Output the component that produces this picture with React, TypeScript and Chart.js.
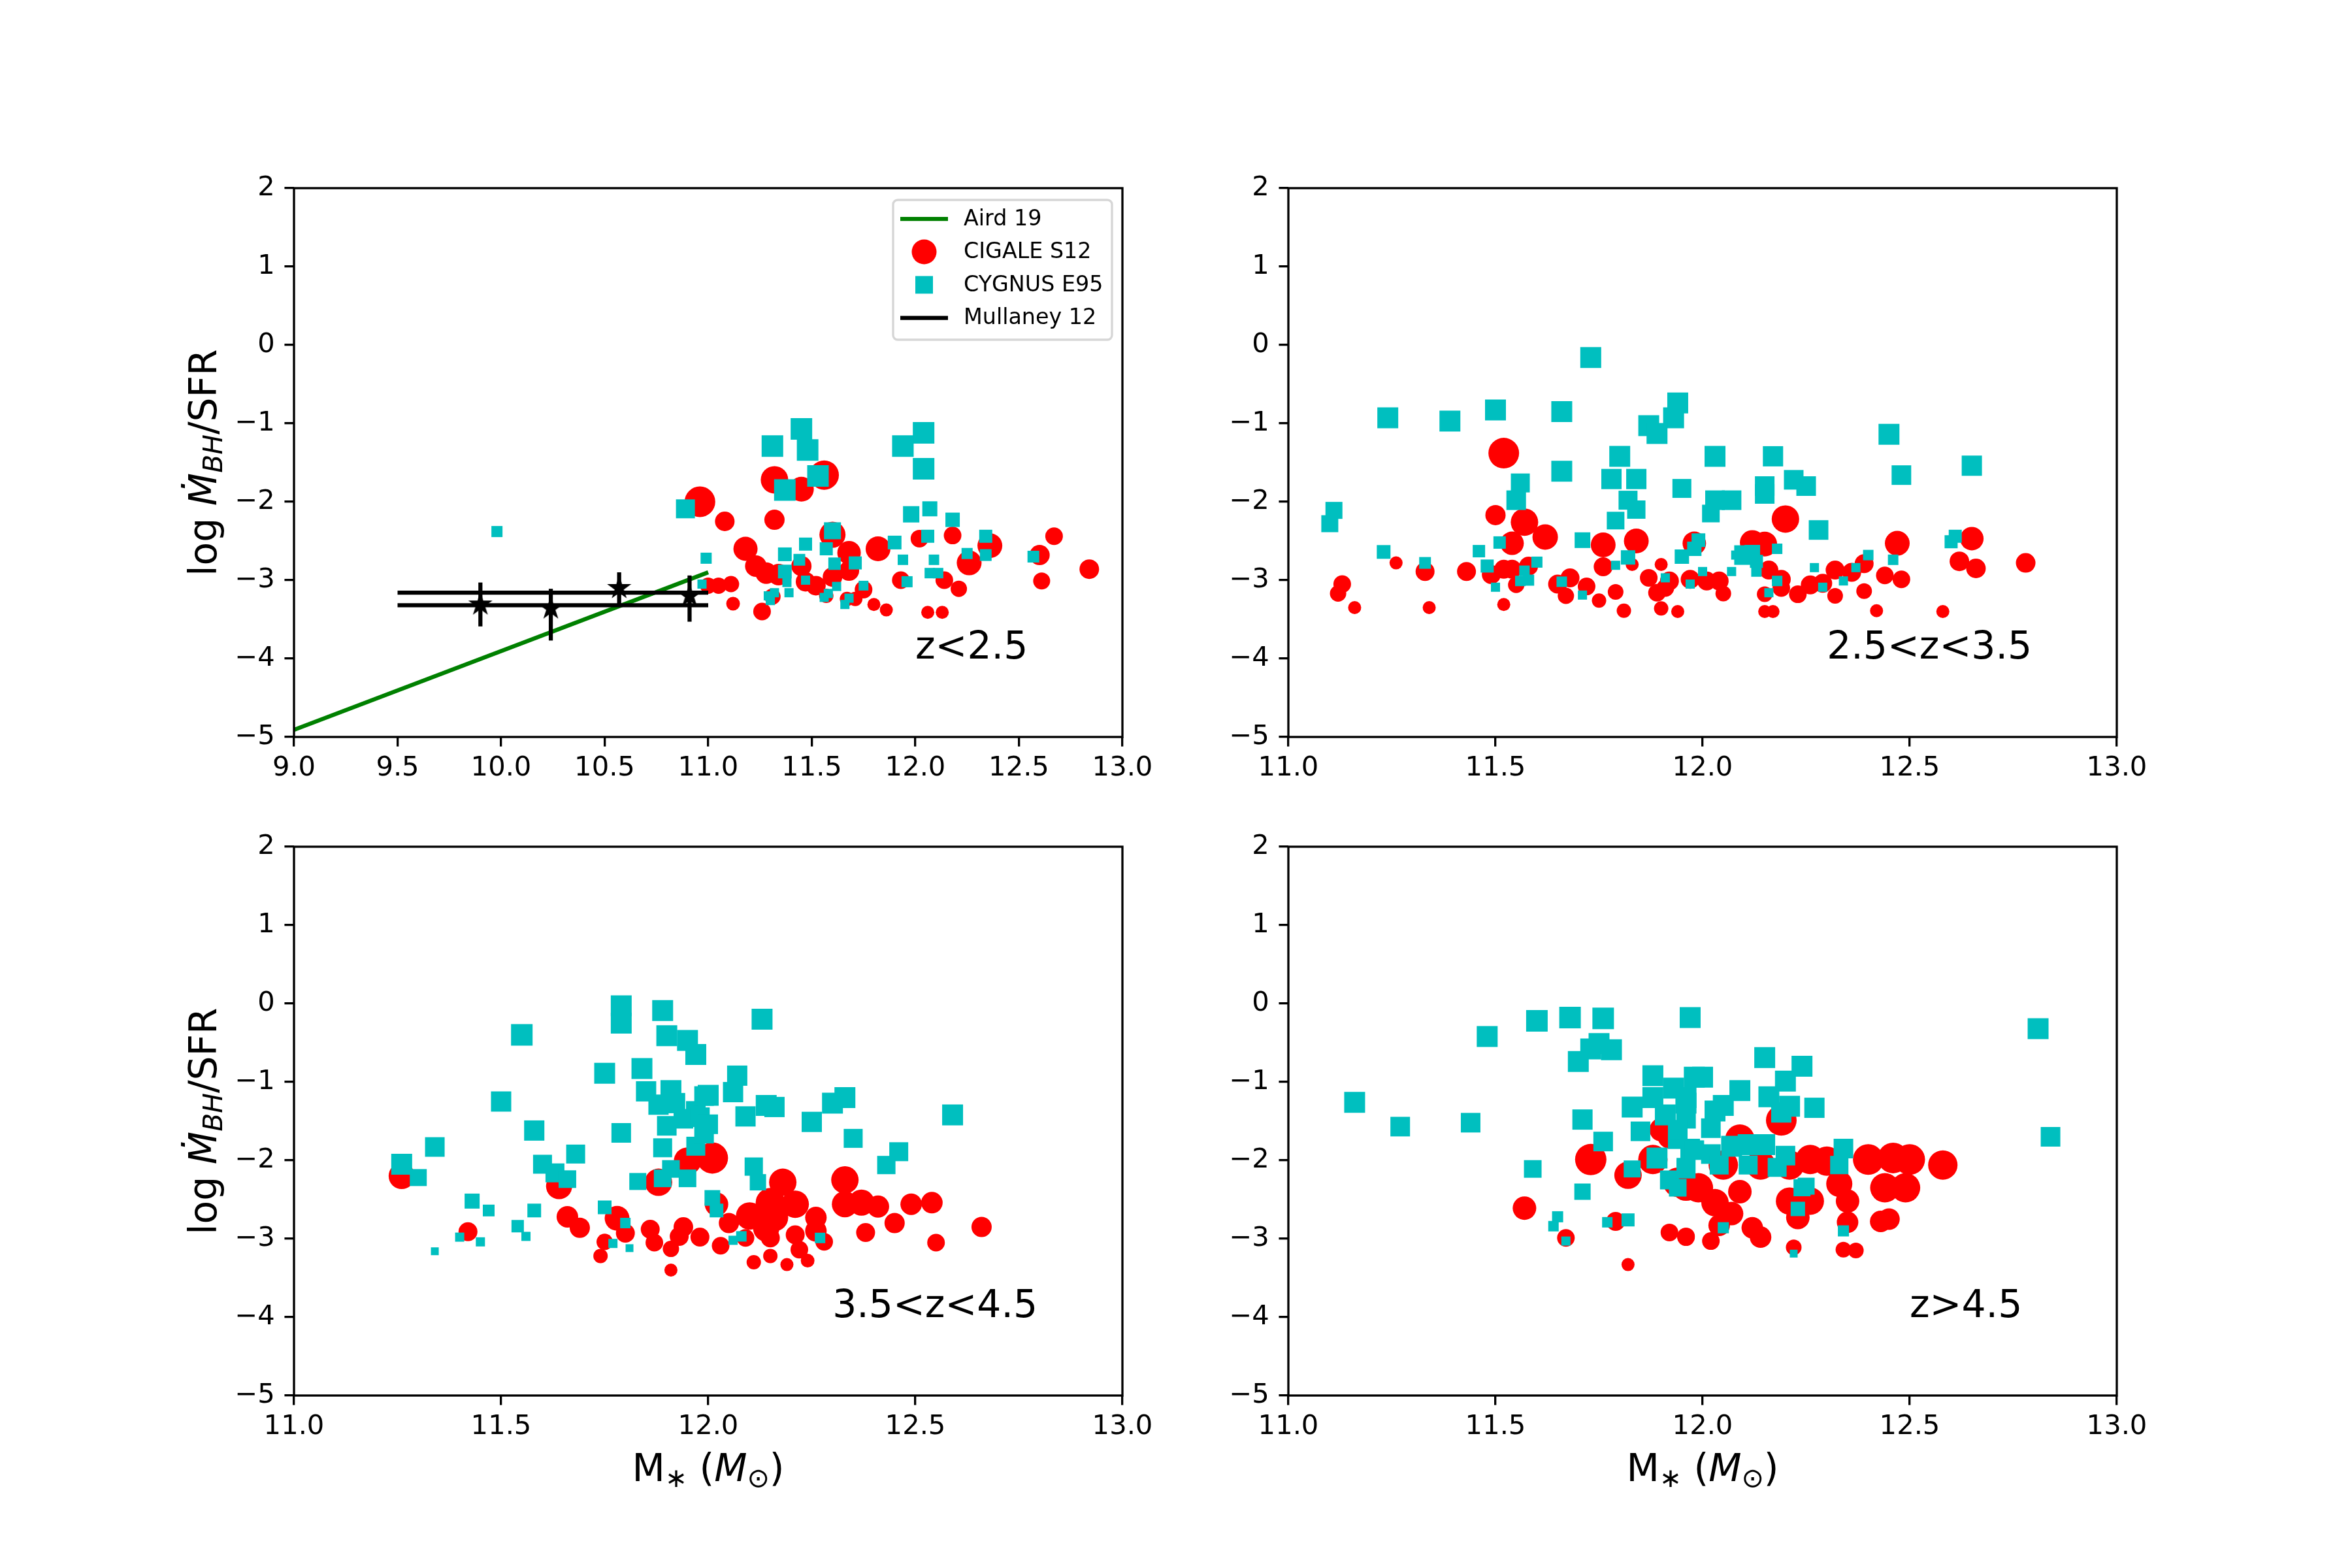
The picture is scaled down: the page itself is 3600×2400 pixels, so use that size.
import React, { useEffect, useRef } from 'react';
import { Chart, registerables } from 'chart.js';

Chart.register(...registerables);

const FONT = '"DejaVu Sans", "Liberation Sans", sans-serif';

// ---------- tick labels ----------
const X_TICKS_WIDE = [9.0, 9.5, 10.0, 10.5, 11.0, 11.5, 12.0, 12.5, 13.0];
const X_TICKS_NARROW = [11.0, 11.5, 12.0, 12.5, 13.0];
const Y_TICKS = [-5, -4, -3, -2, -1, 0, 1, 2];

// ---------- panel annotations ----------
const PANEL_LABELS = ['z<2.5', '2.5<z<3.5', '3.5<z<4.5', 'z>4.5'];
const PANEL_LABEL_MASS = [12.0, 12.3, 12.3, 12.5];
const PANEL_LABEL_RATIO = [-4.0, -4.0, -4.0, -4.0];

const LEGEND_LABELS = ['Aird 19', 'CIGALE S12', 'CYGNUS E95', 'Mullaney 12'];

// ---------- Aird 19 relation ----------
const airdMass = [9.0, 11.0];
const airdRatio = [-4.91, -2.9];

// ---------- Mullaney 12 ----------
const mullaneyBandMass = [9.5, 11.0];
const mullaneyBandLevels = [-3.16, -3.32];
const mullaneyMass = [9.9, 10.24, 10.57, 10.91];
const mullaneyRatio = [-3.31, -3.36, -3.1, -3.2];
const mullaneyLow = [-3.59, -3.77, -3.31, -3.53];
const mullaneyHigh = [-3.03, -3.11, -2.9, -2.94];

// ---------- z < 2.5 ----------
const z1CigaleMass = [10.96, 11.32, 11.56, 11.45, 11.08, 11.32, 11.6, 11.18, 11.23, 11.28, 11.34, 11.45, 11.68, 11.82, 12.02, 12.18, 12.36, 12.26, 12.67, 12.6, 12.61, 12.84, 11.0, 11.05, 11.11, 11.47, 11.52, 11.6, 11.68, 11.75, 11.71, 11.67, 11.57, 11.31, 11.26, 11.12, 11.8, 11.86, 11.93, 12.14, 12.21, 12.06, 12.13];
const z1CigaleRatio = [-2.0, -1.72, -1.66, -1.84, -2.25, -2.23, -2.42, -2.6, -2.82, -2.91, -2.93, -2.82, -2.65, -2.6, -2.47, -2.43, -2.56, -2.78, -2.44, -2.68, -3.01, -2.86, -3.07, -3.07, -3.05, -3.02, -3.07, -2.96, -2.88, -3.12, -3.24, -3.24, -3.2, -3.21, -3.4, -3.3, -3.31, -3.38, -3.0, -3.0, -3.11, -3.41, -3.41];
const z1CigaleWeight = [47, 42, 45, 38, 30, 31, 40, 37, 33, 33, 33, 31, 36, 38, 27, 27, 38, 38, 27, 31, 26, 30, 25, 25, 25, 30, 30, 30, 31, 27, 22, 22, 22, 25, 27, 21, 20, 20, 27, 27, 25, 20, 20];

const z1CygnusMass = [11.45, 11.31, 11.48, 12.04, 11.94, 12.04, 11.53, 11.37, 10.89, 11.98, 12.07, 12.18, 11.6, 11.47, 11.57, 11.37, 11.9, 12.06, 12.34, 12.25, 12.34, 12.57, 10.99, 11.44, 11.61, 11.71, 11.94, 12.09, 11.37, 12.07, 12.11, 11.38, 11.47, 11.96, 10.97, 11.75, 11.62, 11.29, 11.32, 11.39, 11.3, 11.56, 11.58, 11.66, 11.68, 9.98];
const z1CygnusRatio = [-1.07, -1.29, -1.34, -1.12, -1.29, -1.58, -1.67, -1.85, -2.09, -2.16, -2.09, -2.23, -2.37, -2.54, -2.6, -2.67, -2.52, -2.44, -2.44, -2.66, -2.68, -2.7, -2.72, -2.74, -2.79, -2.78, -2.74, -2.74, -2.89, -2.91, -2.91, -3.03, -3.0, -3.02, -3.05, -3.07, -3.08, -3.2, -3.16, -3.16, -3.26, -3.22, -3.17, -3.31, -3.23, -2.38];
const z1CygnusWeight = [33, 33, 33, 33, 33, 33, 33, 33, 29, 25, 23, 22, 26, 20, 20, 21, 21, 20, 20, 17, 18, 18, 17, 18, 19, 20, 16, 16, 21, 16, 16, 14, 14, 17, 14, 15, 14, 14, 14, 14, 14, 14, 14, 14, 14, 17];

// ---------- 2.5 < z < 3.5 ----------
const z2CigaleMass = [11.52, 11.5, 11.57, 11.62, 11.54, 11.76, 11.84, 11.98, 11.76, 11.13, 11.12, 11.16, 11.26, 11.33, 11.34, 11.43, 11.49, 11.52, 11.54, 11.58, 11.55, 11.52, 11.65, 11.68, 11.67, 11.72, 11.75, 11.79, 11.81, 11.83, 11.87, 11.9, 11.89, 11.92, 11.91, 11.9, 11.94, 11.97, 12.01, 12.04, 12.05, 12.2, 12.12, 12.15, 12.47, 12.65, 12.16, 12.19, 12.19, 12.15, 12.23, 12.26, 12.29, 12.32, 12.36, 12.39, 12.44, 12.48, 12.32, 12.39, 12.15, 12.17, 12.42, 12.58, 12.62, 12.66, 12.78];
const z2CigaleRatio = [-1.38, -2.17, -2.26, -2.45, -2.53, -2.55, -2.5, -2.53, -2.83, -3.05, -3.17, -3.35, -2.78, -2.89, -3.35, -2.89, -2.93, -2.86, -2.86, -2.82, -3.06, -3.31, -3.05, -2.97, -3.2, -3.08, -3.26, -3.15, -3.39, -2.8, -2.97, -2.8, -3.16, -3.01, -3.1, -3.36, -3.4, -2.99, -3.01, -3.01, -3.17, -2.22, -2.52, -2.54, -2.53, -2.47, -2.87, -2.99, -3.1, -3.18, -3.18, -3.06, -3.04, -2.87, -2.9, -2.79, -2.94, -2.99, -3.2, -3.14, -3.4, -3.4, -3.39, -3.4, -2.76, -2.85, -2.78];
const z2CigaleWeight = [47, 31, 42, 39, 36, 38, 38, 36, 29, 27, 25, 20, 20, 29, 20, 29, 29, 29, 29, 29, 25, 20, 29, 29, 25, 27, 22, 24, 22, 20, 27, 20, 27, 29, 27, 22, 20, 29, 29, 29, 24, 42, 38, 38, 38, 36, 29, 29, 27, 24, 27, 29, 29, 29, 29, 29, 27, 27, 24, 24, 20, 20, 20, 20, 30, 30, 30];

const z2CygnusMass = [11.24, 11.39, 11.5, 11.66, 11.73, 11.94, 11.93, 11.87, 11.89, 11.8, 12.03, 11.66, 11.78, 11.84, 11.95, 11.56, 11.55, 11.82, 11.84, 11.79, 12.02, 12.03, 11.11, 11.1, 11.71, 11.23, 11.46, 11.51, 11.33, 11.48, 11.6, 11.57, 11.58, 11.56, 11.5, 11.66, 11.71, 11.79, 11.82, 11.91, 11.97, 11.99, 11.98, 11.95, 12.0, 12.07, 12.08, 12.17, 12.45, 12.65, 12.48, 12.15, 12.22, 12.25, 12.15, 12.07, 12.28, 12.1, 12.12, 12.13, 12.13, 12.18, 12.18, 12.16, 12.27, 12.29, 12.34, 12.37, 12.4, 12.46, 12.6, 12.61];
const z2CygnusRatio = [-0.93, -0.97, -0.83, -0.85, -0.16, -0.74, -0.93, -1.03, -1.13, -1.42, -1.42, -1.61, -1.71, -1.71, -1.83, -1.76, -1.98, -1.98, -2.1, -2.24, -2.15, -1.98, -2.11, -2.28, -2.49, -2.64, -2.63, -2.52, -2.78, -2.82, -2.77, -2.88, -3.0, -3.01, -3.09, -3.02, -3.19, -2.81, -2.71, -2.97, -3.05, -2.49, -2.6, -2.7, -2.89, -2.89, -2.68, -1.42, -1.14, -1.54, -1.66, -1.8, -1.72, -1.8, -1.9, -1.98, -2.36, -2.68, -2.65, -2.76, -2.89, -2.6, -3.01, -3.16, -2.84, -3.09, -3.01, -2.84, -2.68, -2.74, -2.51, -2.44];
const z2CygnusWeight = [32, 32, 32, 32, 32, 32, 32, 32, 32, 32, 32, 32, 31, 31, 29, 29, 30, 29, 28, 27, 27, 30, 26, 26, 24, 21, 19, 19, 18, 20, 17, 16, 17, 16, 14, 16, 14, 14, 22, 14, 14, 21, 22, 22, 14, 14, 14, 31, 32, 31, 30, 30, 30, 30, 30, 30, 30, 30, 24, 20, 16, 16, 16, 14, 14, 14, 14, 14, 16, 16, 20, 20];

// ---------- 3.5 < z < 4.5 ----------
const z3CigaleMass = [11.26, 11.64, 11.88, 11.95, 11.42, 11.66, 11.69, 11.78, 11.8, 11.75, 11.74, 11.86, 11.87, 11.91, 11.91, 11.94, 11.93, 11.98, 12.01, 12.02, 12.05, 12.03, 12.09, 12.1, 12.18, 12.15, 12.21, 12.16, 12.14, 12.15, 12.21, 12.22, 12.26, 12.26, 12.28, 12.11, 12.15, 12.19, 12.24, 12.33, 12.33, 12.37, 12.41, 12.38, 12.45, 12.49, 12.54, 12.55, 12.66];
const z3CigaleRatio = [-2.2, -2.33, -2.28, -2.01, -2.91, -2.72, -2.86, -2.74, -2.93, -3.04, -3.22, -2.88, -3.05, -3.13, -3.4, -2.85, -2.97, -2.98, -1.97, -2.56, -2.8, -3.09, -2.99, -2.71, -2.28, -2.54, -2.56, -2.73, -2.87, -2.99, -2.95, -3.14, -2.73, -2.9, -3.04, -3.3, -3.22, -3.33, -3.28, -2.25, -2.56, -2.54, -2.59, -2.92, -2.8, -2.56, -2.54, -3.05, -2.85];
const z3CigaleWeight = [40, 40, 42, 42, 29, 33, 31, 38, 29, 25, 22, 29, 27, 25, 20, 30, 29, 29, 48, 36, 31, 27, 27, 42, 42, 45, 42, 42, 40, 29, 29, 27, 33, 33, 27, 22, 22, 20, 21, 42, 40, 40, 34, 29, 31, 33, 33, 27, 31];

const z3CygnusMass = [11.26, 11.3, 11.34, 11.5, 11.55, 11.58, 11.6, 11.63, 11.66, 11.68, 11.75, 11.79, 11.79, 11.89, 11.9, 11.84, 11.79, 11.85, 11.91, 11.88, 11.92, 11.9, 11.95, 11.97, 11.94, 11.97, 11.89, 11.83, 11.89, 11.91, 11.95, 11.97, 11.99, 11.43, 11.47, 11.58, 11.54, 11.56, 11.4, 11.45, 11.34, 11.75, 11.8, 11.77, 11.81, 12.13, 12.07, 12.06, 12.0, 12.14, 12.16, 12.09, 11.98, 12.0, 11.99, 12.25, 12.3, 12.33, 12.59, 12.35, 12.46, 12.43, 12.11, 12.12, 12.01, 12.02, 12.06, 12.08, 12.27];
const z3CygnusRatio = [-2.05, -2.22, -1.83, -1.25, -0.4, -1.62, -2.05, -2.16, -2.24, -1.92, -0.89, -0.03, -0.25, -0.09, -0.41, -0.83, -1.65, -1.12, -1.11, -1.29, -1.27, -1.56, -0.47, -0.65, -1.47, -1.37, -1.84, -2.27, -2.23, -2.11, -2.23, -1.82, -1.18, -2.52, -2.64, -2.64, -2.84, -2.97, -2.98, -3.04, -3.16, -2.6, -2.8, -3.06, -3.12, -0.2, -0.92, -1.13, -1.17, -1.3, -1.32, -1.44, -1.45, -1.54, -1.66, -1.51, -1.27, -1.2, -1.42, -1.72, -1.89, -2.06, -2.08, -2.28, -2.48, -2.64, -3.02, -2.97, -2.99];
const z3CygnusWeight = [32, 26, 30, 31, 33, 31, 29, 29, 27, 29, 32, 32, 32, 32, 32, 32, 30, 31, 32, 31, 31, 30, 32, 32, 30, 30, 29, 26, 27, 27, 27, 29, 30, 23, 18, 21, 19, 14, 14, 14, 12, 21, 16, 14, 12, 32, 31, 31, 32, 32, 31, 31, 30, 30, 30, 31, 32, 32, 32, 29, 29, 28, 28, 25, 24, 21, 14, 16, 16];

// ---------- z > 4.5 ----------
const z4CigaleMass = [11.57, 11.67, 11.73, 11.82, 11.79, 11.82, 11.88, 11.9, 11.92, 11.92, 11.96, 11.94, 11.96, 12.19, 12.09, 12.05, 12.14, 12.21, 12.26, 12.3, 12.4, 12.46, 12.5, 12.58, 12.44, 12.49, 12.33, 11.99, 12.03, 12.09, 12.07, 12.21, 12.26, 12.23, 12.35, 12.35, 12.04, 12.12, 12.14, 12.43, 12.45, 11.96, 12.02, 12.22, 12.34, 12.37];
const z4CigaleRatio = [-2.61, -2.99, -1.99, -2.19, -2.78, -3.33, -1.99, -1.61, -1.7, -2.92, -2.98, -2.28, -2.33, -1.49, -1.73, -2.06, -2.06, -2.06, -1.99, -2.01, -1.99, -1.97, -1.99, -2.06, -2.35, -2.35, -2.3, -2.35, -2.54, -2.4, -2.68, -2.52, -2.52, -2.73, -2.52, -2.79, -2.83, -2.86, -2.98, -2.78, -2.75, -2.97, -3.03, -3.11, -3.14, -3.15];
const z4CigaleWeight = [36, 27, 48, 42, 29, 20, 45, 36, 36, 27, 27, 45, 45, 47, 45, 45, 45, 45, 45, 45, 47, 47, 47, 45, 45, 45, 40, 45, 42, 36, 36, 42, 42, 36, 36, 33, 33, 33, 33, 33, 33, 27, 27, 24, 24, 24];

const z4CygnusMass = [11.16, 11.27, 11.44, 11.48, 11.6, 11.68, 11.76, 11.7, 11.73, 11.75, 11.78, 11.71, 11.76, 11.59, 11.71, 11.65, 11.64, 11.67, 11.77, 11.82, 11.83, 11.88, 11.83, 11.88, 11.93, 11.96, 11.91, 11.85, 11.96, 11.94, 11.97, 11.89, 11.96, 11.92, 11.94, 11.97, 11.98, 12.81, 12.84, 12.15, 12.24, 12.2, 12.0, 12.09, 12.16, 12.21, 12.27, 12.05, 12.03, 11.96, 12.19, 12.02, 11.94, 12.11, 12.15, 12.07, 12.02, 11.98, 12.2, 12.34, 12.33, 12.11, 12.04, 12.18, 11.96, 12.25, 12.24, 12.23, 12.05, 12.34, 12.22];
const z4CygnusRatio = [-1.26, -1.57, -1.52, -0.42, -0.22, -0.18, -0.19, -0.74, -0.58, -0.51, -0.59, -1.48, -1.76, -2.11, -2.4, -2.72, -2.84, -3.03, -2.79, -2.76, -2.11, -0.92, -1.32, -1.2, -1.08, -1.2, -1.42, -1.63, -1.47, -1.73, -1.85, -1.97, -2.09, -2.25, -2.35, -0.18, -0.94, -0.32, -1.7, -0.69, -0.8, -0.99, -0.94, -1.11, -1.19, -1.31, -1.33, -1.3, -1.37, -1.27, -1.39, -1.59, -1.61, -1.8, -1.8, -1.82, -1.92, -1.87, -1.94, -1.85, -2.06, -2.06, -2.06, -2.09, -2.11, -2.33, -2.35, -2.62, -2.86, -2.9, -3.19];
const z4CygnusWeight = [32, 30, 30, 32, 33, 33, 33, 32, 32, 32, 32, 31, 30, 27, 25, 17, 16, 14, 16, 20, 26, 32, 32, 32, 32, 32, 32, 30, 30, 30, 30, 32, 29, 29, 27, 32, 32, 32, 30, 32, 32, 32, 32, 32, 32, 32, 31, 32, 32, 32, 31, 30, 30, 32, 32, 32, 30, 30, 30, 30, 28, 29, 29, 29, 29, 26, 26, 22, 17, 17, 12];

// ---------- layout (figure pixels) ----------
const FIG_W = 3600;
const FIG_H = 2400;
const AX_W = 1268;
const AX_H = 840;
const PAD_L = 160;
const PAD_T = 40;
const PAD_R = 70;
const PAD_B = 100;
const LW = 3.33; // 0.8pt at 300dpi
const TICK_LEN = 14.58;
const TICK_FONT = 41.67;
const LABEL_FONT = 58.33;
const LEGEND_FONT = 33.33;

const RED = '#ff0000';
const CYAN = '#00bfbf';
const GREEN = '#008000';

const pts = (xs: number[], ys: number[]) => xs.map((x, i) => ({ x, y: ys[i] }));

function makeStar(r: number, edge: number) {
  const c = document.createElement('canvas');
  const s = Math.ceil(2 * r + 2 * edge + 4);
  c.width = s;
  c.height = s;
  const g = c.getContext('2d') as CanvasRenderingContext2D;
  g.translate(s / 2, s / 2);
  g.beginPath();
  for (let i = 0; i < 10; i++) {
    const rr = i % 2 === 0 ? r : r * 0.381966;
    const a = -Math.PI / 2 + (i * Math.PI) / 5;
    if (i === 0) g.moveTo(rr * Math.cos(a), rr * Math.sin(a));
    else g.lineTo(rr * Math.cos(a), rr * Math.sin(a));
  }
  g.closePath();
  g.fillStyle = '#000';
  g.fill();
  g.strokeStyle = '#000';
  g.lineWidth = edge;
  g.lineJoin = 'miter';
  g.stroke();
  return c;
}

const framePlugin = {
  id: 'axesFrame',
  afterDatasetsDraw(chart: any) {
    const { ctx, chartArea: a } = chart;
    ctx.save();
    ctx.strokeStyle = '#000';
    ctx.lineWidth = LW;
    ctx.lineJoin = 'miter';
    ctx.strokeRect(a.left, a.top, a.right - a.left, a.bottom - a.top);
    ctx.restore();
  },
};

function annotationPlugin(text: string, mass: number, ratio: number) {
  return {
    id: 'panelText',
    afterDatasetsDraw(chart: any) {
      const { ctx } = chart;
      const x = chart.scales.x.getPixelForValue(mass);
      const y = chart.scales.y.getPixelForValue(ratio);
      ctx.save();
      ctx.font = `${LABEL_FONT}px ${FONT}`;
      ctx.fillStyle = '#000';
      ctx.textAlign = 'left';
      ctx.textBaseline = 'alphabetic';
      ctx.fillText(text, x, y);
      ctx.restore();
    },
  };
}

const legendPlugin = {
  id: 'mplLegend',
  afterDraw(chart: any) {
    const { ctx, chartArea: a } = chart;
    const w = 335;
    const h = 214;
    const x0 = a.right - 16 - w;
    const y0 = a.top + 18;
    const r = 7;
    ctx.save();
    ctx.beginPath();
    ctx.moveTo(x0 + r, y0);
    ctx.lineTo(x0 + w - r, y0);
    ctx.arcTo(x0 + w, y0, x0 + w, y0 + r, r);
    ctx.lineTo(x0 + w, y0 + h - r);
    ctx.arcTo(x0 + w, y0 + h, x0 + w - r, y0 + h, r);
    ctx.lineTo(x0 + r, y0 + h);
    ctx.arcTo(x0, y0 + h, x0, y0 + h - r, r);
    ctx.lineTo(x0, y0 + r);
    ctx.arcTo(x0, y0, x0 + r, y0, r);
    ctx.closePath();
    ctx.fillStyle = 'rgba(255,255,255,0.8)';
    ctx.fill();
    ctx.strokeStyle = 'rgba(204,204,204,0.8)';
    ctx.lineWidth = LW;
    ctx.stroke();

    const hx = x0 + 47.5;
    LEGEND_LABELS.forEach((label, i) => {
      const y = y0 + 29 + 50.5 * i;
      if (i === 0 || i === 3) {
        ctx.beginPath();
        ctx.moveTo(x0 + 11, y);
        ctx.lineTo(x0 + 84, y);
        ctx.strokeStyle = i === 0 ? GREEN : '#000';
        ctx.lineWidth = 6.25;
        ctx.lineCap = 'butt';
        ctx.stroke();
      } else if (i === 1) {
        ctx.beginPath();
        ctx.arc(hx, y, 19, 0, Math.PI * 2);
        ctx.fillStyle = RED;
        ctx.fill();
      } else {
        ctx.fillStyle = CYAN;
        ctx.fillRect(hx - 13.5, y - 13.5, 27, 27);
      }
      ctx.fillStyle = '#000';
      ctx.font = `${LEGEND_FONT}px ${FONT}`;
      ctx.textAlign = 'left';
      ctx.textBaseline = 'middle';
      ctx.fillText(label, x0 + 108, y + 1);
    });
    ctx.restore();
  },
};

function axisOptions(ticksArr: number[], fmt: (v: number) => string, horizontal: boolean) {
  return {
    type: 'linear',
    position: horizontal ? 'bottom' : 'left',
    min: ticksArr[0],
    max: ticksArr[ticksArr.length - 1],
    afterBuildTicks: (s: any) => {
      s.ticks = ticksArr.map((v) => ({ value: v }));
    },
    afterFit: (s: any) => {
      if (horizontal) s.height = PAD_B;
      else s.width = PAD_L;
    },
    ticks: {
      color: '#000',
      font: { family: FONT, size: TICK_FONT, lineHeight: 1 },
      padding: horizontal ? 12.5 : TICK_LEN,
      maxRotation: 0,
      minRotation: 0,
      autoSkip: false,
      callback: (v: any) => fmt(Number(v)),
    },
    grid: {
      display: true,
      drawOnChartArea: false,
      drawTicks: true,
      tickLength: TICK_LEN,
      tickWidth: LW,
      tickColor: '#000',
      color: '#000',
      lineWidth: LW,
    },
    border: { display: false },
  };
}

const fmtX = (v: number) => v.toFixed(1);
const fmtY = (v: number) => (v < 0 ? '\u2212' + Math.abs(v) : String(v));

type PanelProps = {
  left: number;
  top: number;
  xTicks: number[];
  cigale: [number[], number[], number[]];
  cygnus: [number[], number[], number[]];
  index: number;
  withRefs?: boolean;
};

function Panel({ left, top, xTicks, cigale, cygnus, index, withRefs }: PanelProps) {
  const ref = useRef<HTMLCanvasElement>(null);
  const W = PAD_L + AX_W + PAD_R;
  const H = PAD_T + AX_H + PAD_B;

  useEffect(() => {
    const datasets: any[] = [];
    datasets.push({
      label: 'CIGALE S12',
      data: pts(cigale[0], cigale[1]),
      pointStyle: 'circle',
      pointRadius: cigale[2].map((d) => d / 2),
      pointHoverRadius: cigale[2].map((d) => d / 2),
      pointBackgroundColor: RED,
      backgroundColor: RED,
      pointBorderWidth: 0,
      borderWidth: 0,
      order: 3,
    });
    datasets.push({
      label: 'CYGNUS E95',
      data: pts(cygnus[0], cygnus[1]),
      pointStyle: 'rect',
      pointRadius: cygnus[2].map((s) => s / Math.SQRT2),
      pointHoverRadius: cygnus[2].map((s) => s / Math.SQRT2),
      pointBackgroundColor: CYAN,
      backgroundColor: CYAN,
      pointBorderWidth: 0,
      borderWidth: 0,
      order: 2,
    });
    if (withRefs) {
      datasets.push({
        label: 'Aird 19',
        data: pts(airdMass, airdRatio),
        showLine: true,
        borderColor: GREEN,
        borderWidth: 6.25,
        pointRadius: 0,
        order: 4,
      });
      mullaneyBandLevels.forEach((lvl) => {
        datasets.push({
          label: 'Mullaney 12',
          data: pts(mullaneyBandMass, mullaneyBandMass.map(() => lvl)),
          showLine: true,
          borderColor: '#000',
          borderWidth: 6.25,
          pointRadius: 0,
          order: 1,
        });
      });
      mullaneyMass.forEach((m, i) => {
        datasets.push({
          label: 'Mullaney 12 err',
          data: [
            { x: m, y: mullaneyLow[i] },
            { x: m, y: mullaneyHigh[i] },
          ],
          showLine: true,
          borderColor: '#000',
          borderWidth: 6.25,
          pointRadius: 0,
          order: 1,
        });
      });
      datasets.push({
        label: 'Mullaney 12 points',
        data: pts(mullaneyMass, mullaneyRatio),
        pointStyle: makeStar(13, 4),
        pointRadius: 12,
        pointHoverRadius: 12,
        order: 0,
      });
    }

    const plugins: any[] = [framePlugin, annotationPlugin(PANEL_LABELS[index], PANEL_LABEL_MASS[index], PANEL_LABEL_RATIO[index])];
    if (withRefs) plugins.push(legendPlugin);

    const chart = new Chart(ref.current as HTMLCanvasElement, {
      type: 'scatter',
      data: { datasets },
      options: {
        animation: false,
        responsive: false,
        devicePixelRatio: 1,
        events: [],
        layout: { padding: { left: 0, top: PAD_T, right: PAD_R, bottom: 0 } },
        scales: {
          x: axisOptions(xTicks, fmtX, true) as any,
          y: axisOptions(Y_TICKS, fmtY, false) as any,
        },
        plugins: {
          legend: { display: false },
          tooltip: { enabled: false },
        },
      } as any,
      plugins,
    });
    return () => chart.destroy();
  }, []);

  return (
    <canvas
      ref={ref}
      width={W}
      height={H}
      style={{ position: 'absolute', left: left - PAD_L, top: top - PAD_T, width: W, height: H }}
    />
  );
}

const subStyle: React.CSSProperties = { fontSize: '0.7em', position: 'relative', top: '0.22em' };

function YLabel({ cx, cy }: { cx: number; cy: number }) {
  return (
    <div
      style={{
        position: 'absolute',
        left: cx - 400,
        top: cy - 35,
        width: 800,
        height: 70,
        lineHeight: '70px',
        textAlign: 'center',
        transform: 'rotate(-90deg)',
        fontFamily: FONT,
        fontSize: LABEL_FONT,
        whiteSpace: 'nowrap',
        color: '#000',
      }}
    >
      log <span style={{ fontStyle: 'italic' }}>{'M\u0307'}</span>
      <span style={{ ...subStyle, fontStyle: 'italic' }}>BH</span>/SFR
    </div>
  );
}

function XLabel({ cx, top }: { cx: number; top: number }) {
  return (
    <div
      style={{
        position: 'absolute',
        left: cx - 400,
        top,
        width: 800,
        height: 70,
        lineHeight: '70px',
        textAlign: 'center',
        fontFamily: FONT,
        fontSize: LABEL_FONT,
        whiteSpace: 'nowrap',
        color: '#000',
      }}
    >
      M<span style={subStyle}>{'\u2217'}</span> (<span style={{ fontStyle: 'italic' }}>M</span>
      <span style={subStyle}>{'\u2299'}</span>)
    </div>
  );
}

export default function App() {
  const LEFT = [450, 1972];
  const TOP = [288, 1296];
  return (
    <div
      style={{
        position: 'absolute',
        left: 0,
        top: 0,
        width: FIG_W,
        height: FIG_H,
        background: '#fff',
        overflow: 'hidden',
      }}
    >
      <Panel
        index={0}
        left={LEFT[0]}
        top={TOP[0]}
        xTicks={X_TICKS_WIDE}
        cigale={[z1CigaleMass, z1CigaleRatio, z1CigaleWeight]}
        cygnus={[z1CygnusMass, z1CygnusRatio, z1CygnusWeight]}
        withRefs
      />
      <Panel
        index={1}
        left={LEFT[1]}
        top={TOP[0]}
        xTicks={X_TICKS_NARROW}
        cigale={[z2CigaleMass, z2CigaleRatio, z2CigaleWeight]}
        cygnus={[z2CygnusMass, z2CygnusRatio, z2CygnusWeight]}
      />
      <Panel
        index={2}
        left={LEFT[0]}
        top={TOP[1]}
        xTicks={X_TICKS_NARROW}
        cigale={[z3CigaleMass, z3CigaleRatio, z3CigaleWeight]}
        cygnus={[z3CygnusMass, z3CygnusRatio, z3CygnusWeight]}
      />
      <Panel
        index={3}
        left={LEFT[1]}
        top={TOP[1]}
        xTicks={X_TICKS_NARROW}
        cigale={[z4CigaleMass, z4CigaleRatio, z4CigaleWeight]}
        cygnus={[z4CygnusMass, z4CygnusRatio, z4CygnusWeight]}
      />
      <YLabel cx={310.5} cy={TOP[0] + AX_H / 2} />
      <YLabel cx={310.5} cy={TOP[1] + AX_H / 2} />
      <XLabel cx={LEFT[0] + AX_W / 2} top={2212} />
      <XLabel cx={LEFT[1] + AX_W / 2} top={2212} />
    </div>
  );
}
